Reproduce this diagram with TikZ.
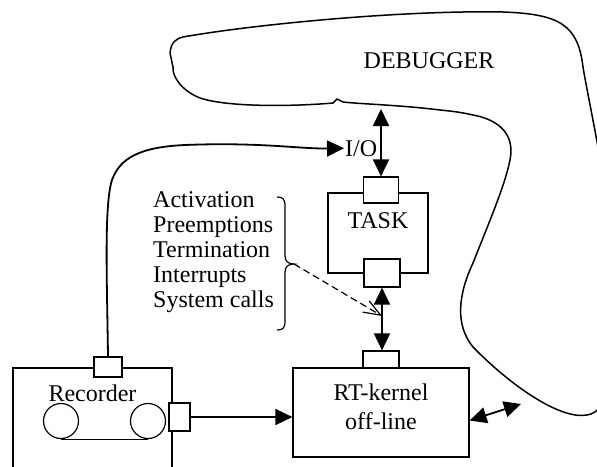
\documentclass[tikz,border=0pt]{standalone}
\usepackage{fontspec}
\setmainfont{Liberation Serif}
\usetikzlibrary{arrows.meta}
\begin{document}
\begin{tikzpicture}[x=1pt,y=-1pt,
  font=\fontsize{24}{25}\selectfont,
  boxst/.style={draw, line width=1.2pt, inner sep=0, rectangle},
  portst/.style={draw, fill=white, line width=1.2pt, inner sep=0, rectangle},
  reelst/.style={draw, circle, line width=1.2pt, minimum size=35pt, inner sep=0},
  bigtri/.tip={Triangle[length=17pt,width=16pt]},
  conn/.style={line width=1.8pt},
  txt/.style={inner sep=0}]
\useasboundingbox (0,0) rectangle (597,466);
\clip (0,0) rectangle (597,466);

% debugger blob
\draw[line width=1.5pt, line join=round]
  (183,37) .. controls (250,25) and (400,10) .. (503,12)
  .. controls (560,14) and (578,25) .. (583,67)
  .. controls (590,110) and (612,200) .. (614,290)
  .. controls (616,370) and (610,412) .. (587,415)
  .. controls (560,420) and (510,385) .. (473,347)
  .. controls (455,325) and (458,295) .. (473,263)
  .. controls (490,220) and (505,185) .. (510,160)
  .. controls (515,135) and (500,120) .. (473,115)
  .. controls (460,112) and (450,111) .. (440,110)
  .. controls (400,105) and (360,104) .. (343,102)
  -- (337,99) -- (333,103)
  .. controls (300,106) and (230,108) .. (200,98)
  .. controls (180,90) and (172,75) .. (173,67)
  -- (170,53)
  .. controls (171,43) and (175,39) .. (183,37) -- cycle;
\node[txt, anchor=base] (dbglbl) at (429,68) {DEBUGGER};
\coordinate (dbgpt) at (381,109);
\coordinate (dbgside) at (521,404);

% task
\node[boxst, minimum width=100pt, minimum height=80pt] (task) at (378,233) {};
\node[txt, anchor=base] (tasklbl) at (378,228) {TASK};
\node[portst, minimum width=35pt, minimum height=26pt] (tin) at (381,190) {};
\node[portst, minimum width=36pt, minimum height=28pt] (tout) at (382,273) {};

% RT-kernel
\node[boxst, minimum width=176pt, minimum height=89pt] (rt) at (381,412.5) {};
\node[txt, align=center, font=\fontsize{24}{29.5}\selectfont] (rtlbl) at (381,407) {RT-kernel\\off-line};
\node[portst, minimum width=36pt, minimum height=17pt] (rin) at (381,359.5) {};

% recorder
\node[boxst, minimum width=159pt, minimum height=112pt] (rec) at (92.5,424) {};
\node[txt, anchor=base] (reclbl) at (92.5,401.5) {Recorder};
\node[reelst] (reel1) at (61,421) {};
\node[reelst] (reel2) at (148,421) {};
\draw[line width=1.2pt] (reel1.south) -- (reel2.south);
\node[portst, minimum width=28pt, minimum height=20pt] (rtop) at (108,367) {};
\node[portst, minimum width=21pt, minimum height=28pt] (rout) at (179.5,417) {};

% events list and brace
\node[txt, anchor=north west, align=left] (events) at (153,191.5)
  {Activation\\Preemptions\\Termination\\Interrupts\\System calls};
\draw[line width=1.2pt]
  (277,197) .. controls (283,197) and (285,199) .. (285,206) -- (285,256)
  .. controls (285,261) and (288,264) .. (294,264) coordinate (bt)
  .. controls (288,264) and (285,267) .. (285,272) -- (285,321)
  .. controls (285,328) and (283,330) .. (277,330);
\coordinate (dt) at (382,316);

% I/O
\node[txt, anchor=base west] (iolbl) at (345,156) {I/O};

% connectors
\draw[conn, -bigtri] (rtop.north) .. controls (107,280) and (104,205) .. (112,180)
  .. controls (120,158) and (140,147) .. (185,145)
  .. controls (260,142) and (300,149) .. ([xshift=-1pt]iolbl.west);
\draw[conn, bigtri-bigtri] (dbgpt) -- (tin.north);
\draw[conn, bigtri-bigtri] (tout.south) -- (tout.south |- rin.north);
\draw[conn, -bigtri] (rout.east) -- (rout.east -| rt.west);
\draw[conn, bigtri-bigtri] ([yshift=-8pt]rt.east) -- (dbgside);
\draw[line width=1.2pt, dash pattern=on 7pt off 4pt,
  -{Straight Barb[length=17pt,width=13pt]}] (bt) -- (dt);
\end{tikzpicture}
\end{document}
